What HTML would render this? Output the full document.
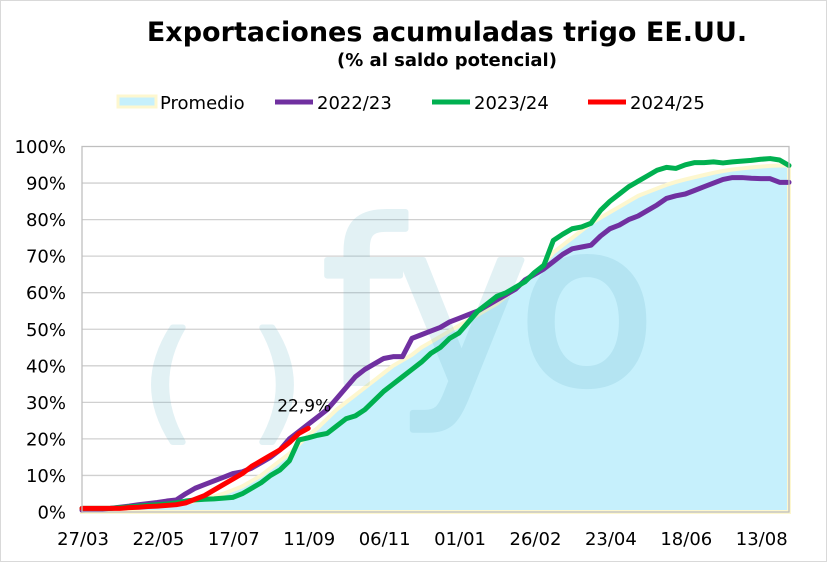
<!DOCTYPE html>
<html><head><meta charset="utf-8"><style>
html,body{margin:0;padding:0;background:#fff;}
svg{display:block;font-family:"DejaVu Sans","Liberation Sans",sans-serif;}
</style></head><body>
<svg id="chart" width="827" height="562" viewBox="0 0 827 562">
<rect x="0.5" y="0.5" width="826" height="561" fill="#fff" stroke="#d9d9d9"/>
<text x="447" y="41" text-anchor="middle" font-size="27" font-weight="bold">Exportaciones acumuladas trigo EE.UU.</text>
<text x="447" y="66" text-anchor="middle" font-size="18" font-weight="bold">(% al saldo potencial)</text>
<g id="legend"></g>
<g id="grid"></g>
<g id="plot"></g>
<g id="axes"></g>
</svg>
<script>
const xLabels=["27/03","22/05","17/07","11/09","06/11","01/01","26/02","23/04","18/06","13/08"];
const yTicks=[0,10,20,30,40,50,60,70,80,90,100];
const promedio=[0.3,0.4,0.5,0.6,0.8,1,1.2,1.4,1.6,1.8,2,2.4,3,3.6,4.3,5,6,7,8.5,10,12,14,16,18.5,21,23,25.5,28,30,32,34,36,38,40,41.5,43,45,46.5,48,49.5,51,52.5,54,55.5,57,59,61,63,65,68,71,73,75,77,79,80.5,82,83.5,85,86.5,87.5,88.5,89.5,90.3,91,91.6,92.2,92.8,93.3,93.7,94,94.3,94.5,94.7,94.8,94.8];
const s2223=[0.5,0.6,0.8,1,1.3,1.6,2,2.3,2.6,3,3.3,5,6.5,7.5,8.5,9.5,10.5,11,12,13.5,15,17,20,22,24,26,28,31,34,37,39,40.5,42,42.5,42.5,47.5,48.5,49.5,50.5,52,53,54,55,56.5,58,59.5,61,63.5,65,66.5,68.5,70.5,72,72.5,73,75.5,77.5,78.5,80,81,82.5,84,85.8,86.5,87,88,89,90,91,91.5,91.5,91.3,91.2,91.2,90.2,90.2];
const s2324=[1,1,1,1,1.2,1.4,1.6,1.8,2,2.2,2.5,3,3.3,3.5,3.6,3.8,4,5,6.5,8,10,11.5,14,19.7,20.3,21,21.5,23.5,25.5,26.3,28,30.5,33,35,37,39,41,43.4,45,47.5,49,52,55,57,59,60,61.5,63,65.5,67.5,74.3,76,77.5,78,79,82.5,85,87,89,90.5,92,93.5,94.3,94,95,95.6,95.6,95.8,95.5,95.8,96,96.2,96.5,96.7,96.3,94.8];
const s2425=[1,1,1,1,1,1.2,1.3,1.5,1.6,1.8,2,2.5,3.5,4.5,6,7.5,9,10.5,12.5,14,15.5,17,19,21.5,22.9];
const lastLabel="22,9%";
const X0=82,X1=789,Y0=512,Y100=146.5,N=75;
const xs=i=>X0+i*(X1-X0)/N;
const ys=v=>Y0-(v/100)*(Y0-Y100);
const NS="http://www.w3.org/2000/svg";
function mk(tag,attrs,parent){const e=document.createElementNS(NS,tag);for(const k in attrs)e.setAttribute(k,attrs[k]);parent.appendChild(e);return e;}
const grid=document.getElementById('grid'),plot=document.getElementById('plot'),axes=document.getElementById('axes'),legend=document.getElementById('legend');
yTicks.forEach(t=>{
 if(t>0&&t<100){const l=mk('line',{x1:X0,x2:X1,y1:ys(t),y2:ys(t),stroke:'#d0d0d0','stroke-width':1.3},grid);
 
 }
 const tx=mk('text',{x:66,y:ys(t)+6.5,'text-anchor':'end','font-size':18},axes);tx.textContent=t+'%';
 
 
});
xLabels.forEach((lb,k)=>{
 const tx=mk('text',{x:xs(k*8)+1,y:545,'text-anchor':'middle','font-size':18},axes);tx.textContent=lb;
 
 
});
// area
let d='M'+xs(0)+','+Y0;promedio.forEach((v,i)=>d+=' L'+xs(i)+','+ys(v));d+=' L'+xs(promedio.length-1)+','+Y0+' Z';
const area=mk('path',{d:d,fill:'#c6f0fc',stroke:'#fdf7cf','stroke-width':4},plot);


// watermark
const wm=mk('g',{fill:'rgb(100,180,200)',stroke:'rgb(100,180,200)','stroke-width':6,'stroke-linejoin':'round',opacity:0.18},plot);


[['(',143,425,128],[')',252,425,128],['f',322,383,225],['y',395,383,225],['o',518,383,225]].forEach(([c,x,y,fs])=>{
 const t=mk('text',{x:x,y:y,'font-size':fs},wm);t.textContent=c;
});
function line(arr,color,name){const p=mk('polyline',{points:arr.map((v,i)=>xs(i)+','+ys(v)).join(' '),fill:'none',stroke:color,'stroke-width':5,'stroke-linejoin':'round','stroke-linecap':'round'},plot);
 
 }
line(s2223,'#7030a0','series-2022-23');
line(s2324,'#00b050','series-2023-24');
line(s2425,'#ff0000','series-2024-25');
const lbl=mk('text',{x:xs(s2425.length-1)-4,y:ys(s2425[s2425.length-1])-17,'text-anchor':'middle','font-size':17},plot);lbl.textContent=lastLabel;


const fr=mk('rect',{x:X0,y:Y100,width:X1-X0,height:Y0-Y100,fill:'none',stroke:'#bfbfbf','stroke-width':1.3},axes);


// legend
const leg=[['Promedio','area',118],['2022/23','#7030a0',275],['2023/24','#00b050',432],['2024/25','#ff0000',588]];
leg.forEach(([n,c,x])=>{
 if(c==='area'){const r=mk('rect',{x:x,y:96,width:38,height:11,fill:'#c6f0fc',stroke:'#fdf7cf','stroke-width':3},legend);
  
  }
 else{const l=mk('line',{x1:x,x2:x+38,y1:102,y2:102,stroke:c,'stroke-width':5},legend);
  
  }
 const t=mk('text',{x:x+42,y:109,'font-size':18},legend);t.textContent=n;
 
 
});
</script>
</body></html>
